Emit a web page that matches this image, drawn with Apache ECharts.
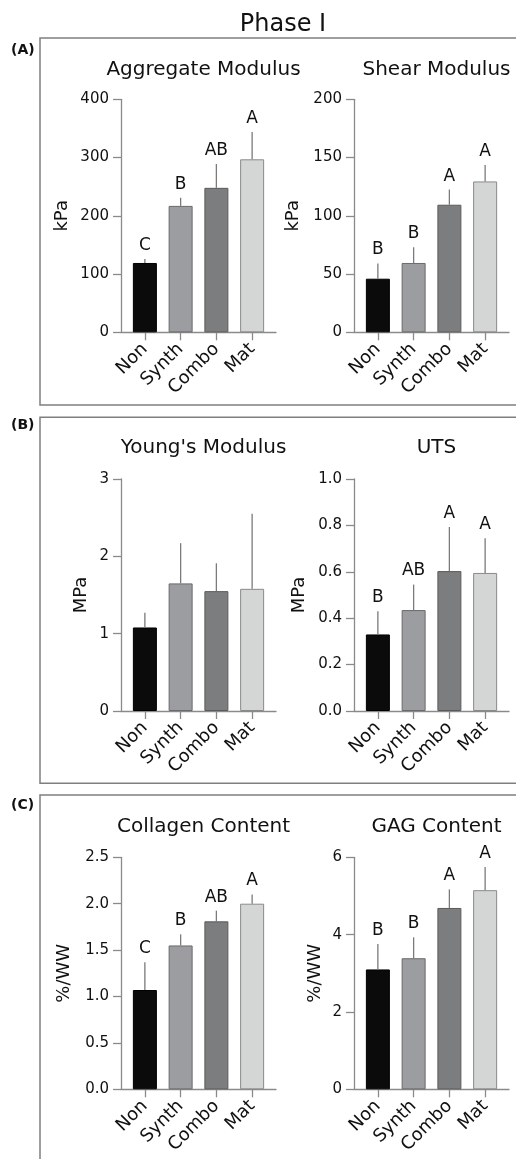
<!DOCTYPE html>
<html><head><meta charset="utf-8">
<script src="https://cdn.jsdelivr.net/npm/echarts@6/dist/echarts.min.js"></script>
<style>html,body{margin:0;padding:0;background:#fff}#c{width:516px;height:1159px}</style>
</head><body><div id="c"></div>
<script>
// ---------- DATA ----------
const categories = ['Non', 'Synth', 'Combo', 'Mat'];

const aggregateMean = [119, 217, 248, 297];
const aggregateErr = [7, 14, 41, 47];
const aggregateLetters = ['C', 'B', 'AB', 'A'];
const aggregateTicks = [0, 100, 200, 300, 400];

const shearMean = [46, 59.5, 109.5, 129.5];
const shearErr = [13, 13.5, 13, 14];
const shearLetters = ['B', 'B', 'A', 'A'];
const shearTicks = [0, 50, 100, 150, 200];

const youngMean = [1.08, 1.65, 1.55, 1.58];
const youngErr = [0.19, 0.52, 0.36, 0.97];
const youngLetters = ['', '', '', ''];
const youngTicks = [0, 1, 2, 3];

const utsMean = [0.33, 0.435, 0.603, 0.595];
const utsErr = [0.10, 0.11, 0.19, 0.15];
const utsLetters = ['B', 'AB', 'A', 'A'];
const utsTicks = [0.0, 0.2, 0.4, 0.6, 0.8, 1.0];

const collagenMean = [1.07, 1.55, 1.81, 2.00];
const collagenErr = [0.30, 0.12, 0.115, 0.10];
const collagenLetters = ['C', 'B', 'AB', 'A'];
const collagenTicks = [0.0, 0.5, 1.0, 1.5, 2.0, 2.5];

const gagMean = [3.10, 3.39, 4.69, 5.15];
const gagErr = [0.655, 0.54, 0.48, 0.60];
const gagLetters = ['B', 'B', 'A', 'A'];
const gagTicks = [0, 2, 4, 6];

// ---------- STYLE / LAYOUT ----------
const FONT = "'DejaVu Sans', 'Liberation Sans', Arial, sans-serif";
const barColors = ['#0b0b0b', '#9c9da1', '#7c7d7f', '#d4d5d5'];
const barBorders = ['#000000', '#6a6a6a', '#5a5a5a', '#8a8a8a'];
const axisColor = '#8a8a8a';
const textColor = '#111111';

const panels = [
  {title: 'Aggregate Modulus', unit: 'kPa', mean: aggregateMean, err: aggregateErr, letters: aggregateLetters, ticks: aggregateTicks, dec: 0, x: 121, top: 99.3, h: 233, nameGap: 50, titleTop: 55},
  {title: 'Shear Modulus', unit: 'kPa', mean: shearMean, err: shearErr, letters: shearLetters, ticks: shearTicks, dec: 0, x: 354, top: 99.3, h: 233, nameGap: 52, titleTop: 55},
  {title: "Young's Modulus", unit: 'MPa', mean: youngMean, err: youngErr, letters: youngLetters, ticks: youngTicks, dec: 0, x: 121, top: 479, h: 232, nameGap: 31, titleTop: 433},
  {title: 'UTS', unit: 'MPa', mean: utsMean, err: utsErr, letters: utsLetters, ticks: utsTicks, dec: 1, x: 354, top: 479, h: 232, nameGap: 46, titleTop: 433},
  {title: 'Collagen Content', unit: '%/WW', mean: collagenMean, err: collagenErr, letters: collagenLetters, ticks: collagenTicks, dec: 1, x: 121, top: 857.3, h: 232, nameGap: 48, titleTop: 812},
  {title: 'GAG Content', unit: '%/WW', mean: gagMean, err: gagErr, letters: gagLetters, ticks: gagTicks, dec: 0, x: 354, top: 857.3, h: 232, nameGap: 30, titleTop: 812}
];

const AXW = 155, PAD = 6;
const grid = [], xAxis = [], yAxis = [], series = [], title = [];

title.push({text: 'Phase I', left: 278, top: 8, textAlign: 'center',
  textStyle: {fontFamily: FONT, fontSize: 24, fontWeight: 'normal', color: textColor}});

panels.forEach((p, k) => {
  const gw = 2 * k, gn = 2 * k + 1;
  const mn = p.ticks[0], mx = p.ticks[p.ticks.length - 1], iv = p.ticks[1] - p.ticks[0];
  grid.push({left: p.x, top: p.top, width: AXW, height: p.h, outerBoundsMode: 'none'});
  grid.push({left: p.x + PAD, top: p.top, width: AXW - 2 * PAD, height: p.h, outerBoundsMode: 'none'});

  xAxis.push({gridIndex: gw, type: 'value', min: 0, max: 1,
    axisLine: {show: true, onZero: false, lineStyle: {color: axisColor, width: 1.3}},
    axisTick: {show: false}, axisLabel: {show: false}, splitLine: {show: false}});
  yAxis.push({gridIndex: gw, type: 'value', min: mn, max: mx, interval: iv,
    axisLine: {show: true, onZero: false, lineStyle: {color: axisColor, width: 1.3}},
    axisTick: {show: true, length: 8, lineStyle: {color: axisColor, width: 1.3}},
    axisLabel: {margin: 12, fontFamily: FONT, fontSize: 15, color: textColor,
      formatter: v => Number(v).toFixed(p.dec)},
    splitLine: {show: false},
    name: p.unit, nameLocation: 'middle', nameGap: p.nameGap, nameRotate: 90,
    nameTextStyle: {fontFamily: FONT, fontSize: 18, color: textColor}});

  xAxis.push({gridIndex: gn, type: 'category', data: categories,
    axisLine: {show: false},
    axisTick: {show: true, alignWithLabel: true, length: 8, lineStyle: {color: axisColor, width: 1.3}},
    axisLabel: {interval: 0, rotate: 45, margin: 14, fontFamily: FONT, fontSize: 18, color: textColor}});
  yAxis.push({gridIndex: gn, type: 'value', min: mn, max: mx, show: false});

  series.push({type: 'bar', xAxisIndex: gn, yAxisIndex: gn, barWidth: 24, silent: true,
    data: p.mean.map((v, i) => ({value: v, itemStyle: {color: barColors[i], borderColor: barBorders[i], borderWidth: 1}}))});

  series.push({type: 'custom', xAxisIndex: gn, yAxisIndex: gn, silent: true, z: 3,
    encode: {x: 0, y: 1},
    data: p.mean.map((v, i) => [i, v, p.err[i]]),
    renderItem: (params, api) => {
      const i = api.value(0), m = api.value(1), e = api.value(2);
      const a = api.coord([i, m]), b = api.coord([i, m + e]);
      const letter = p.letters[params.dataIndex];
      return {type: 'group', children: [
        {type: 'line', shape: {x1: a[0], y1: a[1], x2: b[0], y2: b[1]},
          style: {stroke: '#7a7a7a', lineWidth: 1.3}},
        {type: 'text', x: b[0], y: b[1] - 5,
          style: {text: letter, fill: textColor, font: '17px ' + FONT, align: 'center', verticalAlign: 'bottom'}}
      ]};
    }});

  title.push({text: p.title, left: p.x + AXW / 2, top: p.titleTop, textAlign: 'center',
    textStyle: {fontFamily: FONT, fontSize: 20, fontWeight: 'normal', color: textColor}});
});

const frameStyle = {stroke: '#7f7f7f', lineWidth: 1.5, fill: 'none'};
const graphic = [
  {type: 'rect', shape: {x: 40, y: 38, width: 500, height: 367}, style: frameStyle, silent: true},
  {type: 'rect', shape: {x: 40, y: 417.3, width: 500, height: 366}, style: frameStyle, silent: true},
  {type: 'rect', shape: {x: 40, y: 795, width: 500, height: 400}, style: frameStyle, silent: true},
  {type: 'text', x: 11, y: 50, style: {text: '(A)', font: 'bold 14px ' + FONT, fill: textColor, verticalAlign: 'middle'}},
  {type: 'text', x: 11, y: 425.5, style: {text: '(B)', font: 'bold 14px ' + FONT, fill: textColor, verticalAlign: 'middle'}},
  {type: 'text', x: 11, y: 805.5, style: {text: '(C)', font: 'bold 14px ' + FONT, fill: textColor, verticalAlign: 'middle'}}
];

const chart = echarts.init(document.getElementById('c'), null, {renderer: 'canvas'});
chart.setOption({animation: false, backgroundColor: '#ffffff', title, grid, xAxis, yAxis, series, graphic});
</script>
</body></html>
